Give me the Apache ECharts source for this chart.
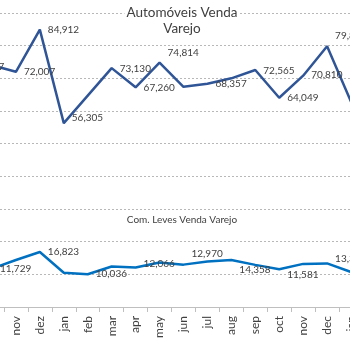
<!DOCTYPE html>
<html><head><meta charset="utf-8">
<script src="https://cdn.jsdelivr.net/npm/echarts@6/dist/echarts.min.js"></script>
<style>html,body{margin:0;padding:0;background:#fff;overflow:hidden;width:350px;height:350px}
#c{position:absolute;left:-20px;top:0;width:383px;height:350px}</style>
</head><body><div id="c"></div>
<script>
// ---- data ----
const months = ['out','nov','dez','jan','feb','mar','apr','may','jun','jul','aug','sep','oct','nov','dec','jan'];
const autos = [74027,72007,84912,56305,64700,73130,67260,74814,67400,68357,70000,72565,64049,70810,79826,62800];
const comLeves = [11729,14400,16823,10500,10036,12400,12066,13600,12970,13900,14358,12900,11581,13200,13352,10700];
const autosTitle = ['Automóveis Venda','Varejo'];
const levesTitle = 'Com. Leves Venda Varejo';
const yMin = 0, yMax = 90000, yStep = 10000;

// ---- style: which points carry a value label, and their nudges [dx, dy] ----
const autosLabelOffsets = {0:[-27,2],1:[0,0],2:[0,0],3:[0,-5],5:[0,1],6:[0,0],7:[0,-10],9:[0,0],11:[0,1],12:[0,0],13:[0,-1],14:[0,-10]};
const levesLabelOffsets = {0:[0,0],2:[0,0],4:[0,0],6:[0,-4],8:[0,-11],10:[0,10],12:[0,6],14:[0,-5]};

const FONT = 'Lato, "Open Sans", sans-serif';
const fmt = p => Number(p.value).toLocaleString('en-US');
const SHIFT = 20; // container is shifted left by this many px
const GAP = 8;

function build(values, offsets) {
  return values.map((v, i) => {
    const off = offsets[i];
    if (!off) return {value: v, label: {show: false}};
    return {value: v, label: {show: true, position: [0.5 + GAP + off[0], 0.5 + off[1]], align: 'left', verticalAlign: 'middle'}};
  });
}

const chart = echarts.init(document.getElementById('c'), null, {renderer: 'canvas'});
chart.setOption({
  animation: false,
  backgroundColor: '#ffffff',
  grid: {left: 0, right: 0, top: 13, bottom: 43, containLabel: false},
  xAxis: {
    type: 'category',
    data: months,
    boundaryGap: true,
    axisLine: {lineStyle: {color: '#bfbfbf', width: 1}},
    axisTick: {show: true, length: 5, lineStyle: {color: '#bfbfbf'}},
    axisLabel: {rotate: 90, interval: 0, fontSize: 12, color: '#404040', margin: 9, fontFamily: FONT},
    splitLine: {show: false}
  },
  yAxis: {
    type: 'value',
    min: yMin, max: yMax, interval: yStep,
    axisLabel: {show: false},
    axisLine: {show: false},
    axisTick: {show: false},
    splitLine: {lineStyle: {type: [2, 2], color: '#b8b8b8', width: 1}}
  },
  series: [
    {
      type: 'line',
      data: build(autos, autosLabelOffsets),
      symbol: 'circle', symbolSize: 1,
      itemStyle: {color: '#2f5597'},
      lineStyle: {color: '#2f5597', width: 2.5},
      label: {fontSize: 10, color: '#404040', fontFamily: FONT, formatter: fmt},
      labelLayout: {hideOverlap: false},
      z: 3
    },
    {
      type: 'line',
      data: build(comLeves, levesLabelOffsets),
      symbol: 'circle', symbolSize: 1,
      itemStyle: {color: '#0070c0'},
      lineStyle: {color: '#0070c0', width: 2.5},
      label: {fontSize: 10, color: '#404040', fontFamily: FONT, formatter: fmt},
      labelLayout: {hideOverlap: false},
      z: 3
    }
  ],
  graphic: [
    {
      type: 'text', x: 182 + SHIFT, y: 4, z: 100,
      style: {
        text: autosTitle.join('\n'),
        align: 'center', verticalAlign: 'top',
        textAlign: 'center', textVerticalAlign: 'top',
        fontSize: 13.5, lineHeight: 16.5, fontFamily: FONT,
        fill: '#404040', backgroundColor: '#ffffff', padding: [0, 2]
      }
    },
    {
      type: 'text', x: 182 + SHIFT, y: 220, z: 100,
      style: {
        text: levesTitle,
        align: 'center', verticalAlign: 'middle',
        textAlign: 'center', textVerticalAlign: 'middle',
        fontSize: 10, fontFamily: FONT, fill: '#404040'
      }
    }
  ]
});
</script>
</body></html>
